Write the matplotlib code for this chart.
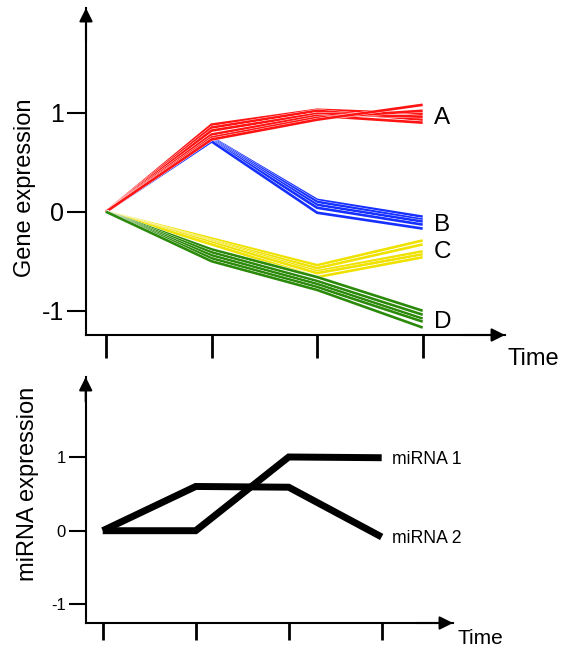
import matplotlib
matplotlib.use("Agg")
import matplotlib.pyplot as plt
import matplotlib.patheffects as pe
import numpy as np

plt.rcParams["font.family"] = ["Liberation Sans", "DejaVu Sans"]

# ---- data -------------------------------------------------------------
time_points = [0, 1, 2, 3]

# gene clusters: one row per gene, one column per time point
cluster_A = [
    [0, 0.88, 1.03, 0.99],
    [0, 0.85, 1.02, 0.93],
    [0, 0.82, 0.99, 0.96],
    [0, 0.78, 0.97, 0.90],
    [0, 0.75, 0.95, 1.02],
    [0, 0.73, 0.93, 1.08],
]
cluster_B = [
    [0, 0.75, 0.12, -0.05],
    [0, 0.74, 0.10, -0.08],
    [0, 0.73, 0.07, -0.10],
    [0, 0.72, 0.04, -0.13],
    [0, 0.71, -0.01, -0.17],
]
cluster_C = [
    [0, -0.27, -0.54, -0.29],
    [0, -0.29, -0.57, -0.33],
    [0, -0.30, -0.60, -0.40],
    [0, -0.31, -0.62, -0.43],
    [0, -0.33, -0.66, -0.46],
]
cluster_D = [
    [0, -0.38, -0.66, -1.00],
    [0, -0.41, -0.70, -1.04],
    [0, -0.44, -0.73, -1.08],
    [0, -0.47, -0.76, -1.11],
    [0, -0.50, -0.79, -1.17],
]
cluster_names = ["A", "B", "C", "D"]
cluster_colors = ["#ff1414", "#1630ff", "#f0e200", "#2c8a0b"]

mirna_1 = [0, 0, 1.0, 0.99]
mirna_2 = [0, 0.60, 0.59, -0.085]
mirna_names = ["miRNA 1", "miRNA 2"]

gene_ticks = [-1, 0, 1]
mirna_ticks = [-1, 0, 1]

# ---- figure -----------------------------------------------------------
W, H = 562, 648
fig = plt.figure(figsize=(W / 100, H / 100), dpi=100)


def px_axes(left, right, top, bottom):
    return fig.add_axes([left / W, 1 - bottom / H, (right - left) / W, (bottom - top) / H])


def style_axes(ax, xlim, ylim, yticks, tick_fs, xtick_len, ytick_len, pad):
    ax.set_xlim(*xlim)
    ax.set_ylim(*ylim)
    for s in ("top", "right"):
        ax.spines[s].set_visible(False)
    for s in ("left", "bottom"):
        ax.spines[s].set_linewidth(1.5)
    ax.set_xticks(time_points)
    ax.set_xticklabels([])
    ax.set_yticks(yticks)
    ax.set_yticklabels([str(v) for v in yticks])
    ax.tick_params(axis="x", direction="out", length=xtick_len, width=2.0)
    ax.tick_params(axis="y", direction="out", length=ytick_len, width=1.5,
                   labelsize=tick_fs, pad=pad)
    # arrow heads on both axes
    arrow = dict(arrowstyle="-|>", color="black", lw=1.5, mutation_scale=20,
                 shrinkA=0, shrinkB=0)
    ax.annotate("", xy=(0, 1.0), xytext=(0, 0.9), xycoords="axes fraction",
                arrowprops=arrow, annotation_clip=False)
    ax.annotate("", xy=(1.0, 0), xytext=(0.9, 0), xycoords="axes fraction",
                arrowprops=arrow, annotation_clip=False)


# ---- gene expression panel --------------------------------------------
ax1 = px_axes(86, 505, 8, 335)
style_axes(ax1, (-0.19, 3.78), (-1.245, 2.058), gene_ticks,
           tick_fs=18, xtick_len=16.5, ytick_len=14, pad=1.5)

outline = [pe.Stroke(linewidth=2.4, foreground="white"), pe.Normal()]
draw_order = [1, 0, 2, 3]  # B under A where they share the first segment
clusters = [cluster_A, cluster_B, cluster_C, cluster_D]
for idx in draw_order:
    rows = np.array(clusters[idx])
    for row in rows:
        ax1.plot(time_points, row, color=cluster_colors[idx], lw=1.9,
                 solid_joinstyle="miter", solid_capstyle="butt",
                 path_effects=outline, zorder=3)

for idx, name in enumerate(cluster_names):
    end_val = np.mean(np.array(clusters[idx])[:, -1])
    ax1.annotate(name, xy=(time_points[-1], end_val), xytext=(8, -6.4),
                 textcoords="offset points", fontsize=17.5, va="baseline",
                 ha="left", annotation_clip=False)

fig.text(25 / W, 1 - 188 / H, "Gene expression", rotation=90, fontsize=17,
         ha="center", va="center")
fig.text(507 / W, 1 - 365 / H, "Time", fontsize=17, ha="left", va="baseline")

# ---- miRNA expression panel -------------------------------------------
ax2 = px_axes(85.7, 453, 377, 623)
style_axes(ax2, (-0.183, 3.767), (-1.252, 2.085), mirna_ticks,
           tick_fs=12, xtick_len=12.2, ytick_len=12.5, pad=2)

for series, name in zip([mirna_1, mirna_2], mirna_names):
    ax2.plot(time_points, series, color="black", lw=5,
             solid_joinstyle="miter", solid_capstyle="butt", zorder=3)
    ax2.annotate(name, xy=(time_points[-1], series[-1]), xytext=(7.5, -4.6),
                 textcoords="offset points", fontsize=12.7, va="baseline",
                 ha="left", annotation_clip=False)

fig.text(28 / W, 1 - 484 / H, "miRNA expression", rotation=90, fontsize=17,
         ha="center", va="center")
fig.text(457 / W, 1 - 644 / H, "Time", fontsize=15, ha="left", va="baseline")

fig.savefig("out.png", dpi=100)
